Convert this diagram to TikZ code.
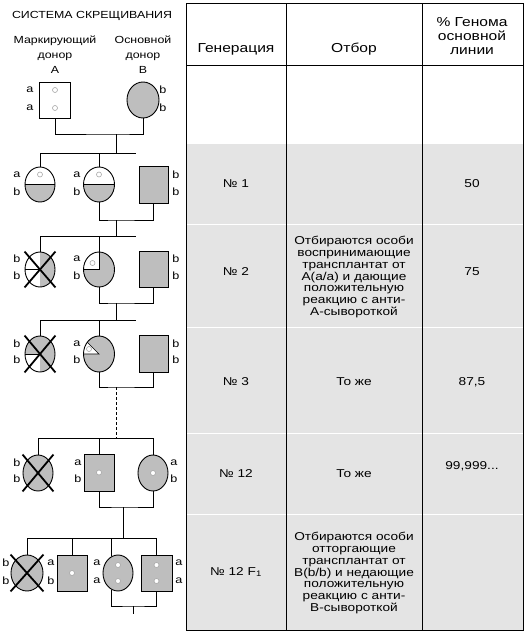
\documentclass[tikz,border=0pt]{standalone}
\usepackage{fontspec}
\setmainfont{Liberation Sans}[FakeStretch=1.2]
\usetikzlibrary{shapes.geometric,calc}
\definecolor{shade}{HTML}{BEBEBE}
\definecolor{rowgray}{HTML}{E4E4E4}
\begin{document}
\begin{tikzpicture}[x=1pt,y=-1pt,
  lbl/.style={font=\fontsize{10.5}{12}\selectfont, inner sep=0},
  ttl/.style={font=\fontsize{10.3}{15}\selectfont, inner sep=0, align=center},
  oval/.style={ellipse, draw, line width=0.9pt, fill=shade, inner sep=0, minimum width=30pt, minimum height=36pt},
  sqr/.style={rectangle, draw, line width=0.9pt, fill=shade, inner sep=0, minimum width=30pt, minimum height=36pt},
  dot/.style={circle, draw=gray!70, fill=white, inner sep=0, minimum size=5pt, line width=0.6pt},
  link/.style={line width=0.9pt},
  cross/.style={line width=1.8pt},
  thin/.style={line width=0.7pt},
  cell/.style={align=center, font=\fontsize{11.4}{11.7}\selectfont, inner sep=0},
  head/.style={align=center, font=\fontsize{13}{14}\selectfont, inner sep=0},
  tophalf/.style={path picture={\fill[white] (path picture bounding box.north west) rectangle (path picture bounding box.east);}},
  quartertl/.style={path picture={\fill[white] (path picture bounding box.north west) rectangle (path picture bounding box.center);}},
  halfleft/.style={path picture={\fill[white] (path picture bounding box.north west) rectangle (path picture bounding box.south);}},
  quarterbl/.style={path picture={\fill[white] (path picture bounding box.west) rectangle (path picture bounding box.south);}},
  wedge/.style={path picture={\fill[white] (path picture bounding box.center) -- ++(-25,0) -- ++(0,-25) -- cycle;}}
]
\useasboundingbox (0,0) rectangle (530,635);

% ---------------- table ----------------
\fill[rowgray] (186,144) rectangle (523,630);
\foreach \yy in {224,327,433,514} \draw[white, line width=1pt] (186,\yy) -- (523,\yy);
\draw[line width=1pt] (186,3) rectangle (523,630);
\draw[line width=1pt] (186,65) -- (523,65);
\draw[line width=1pt] (286,3) -- (286,630);
\draw[line width=1pt] (422,3) -- (422,630);

\node[head] (hgen) at (236,49) {Генерация};
\node[head] (hsel) at (354,49) {Отбор};
\node[head] (hpct) at (472,36) {\% Генома\\основной\\линии};

\node[cell] (r1g) at (236,184) {№ 1};
\node[cell] (r1p) at (472,184) {50};
\node[cell] (r2g) at (236,272) {№ 2};
\node[cell] (r2s) at (354,277) {Отбираются особи\\воспринимающие\\трансплантат от\\A(a/a) и дающие\\положительную\\реакцию с анти-\\A-сывороткой};
\node[cell] (r2p) at (472,272) {75};
\node[cell] (r3g) at (236,382) {№ 3};
\node[cell] (r3s) at (354,382) {То же};
\node[cell] (r3p) at (472,382) {87,5};
\node[cell] (r4g) at (236,474) {№ 12};
\node[cell] (r4s) at (354,474) {То же};
\node[cell] (r4p) at (472,466) {99,999...};
\node[cell] (r5g) at (236,572) {№ 12 F\textsubscript{1}};
\node[cell] (r5s) at (354,573) {Отбираются особи\\отторгающие\\трансплантат от\\B(b/b) и недающие\\положительную\\реакцию с анти-\\B-сывороткой};

% ---------------- pedigree ----------------
\node[ttl] (title) at (92,16) {СИСТЕМА СКРЕЩИВАНИЯ};
\node[ttl] (donA) at (55,55) {Маркирующий\\донор\\A};
\node[ttl] (donB) at (143,55) {Основной\\донор\\B};

% generation 0
\node[sqr, fill=white, minimum width=31pt] (A) at (55,100) {};
\node[oval, minimum width=32pt] (B) at (143,100) {};
\node[dot] (dA1) at (55,90) {};
\node[dot] (dA2) at (55,108) {};
\node[lbl] (lA1) at (30,90) {a};
\node[lbl] (lA2) at (30,108) {a};
\node[lbl] (lB1) at (163,90) {b};
\node[lbl] (lB2) at (163,108) {b};
\coordinate (j0) at (116,134);
\coordinate (s1) at (116,153);
\coordinate (s1l) at (40,153);
\coordinate (s1r) at (136,153);
\draw[link] (A.south) |- (j0) -| (B.south);
\draw[link] (j0) -- (s1);
\draw[link] (s1l) -- (s1r);

% generation 1
\node[oval, tophalf, minimum height=35pt] (g1a) at (40,184.5) {};
\node[oval, tophalf, minimum height=35pt, minimum width=31pt] (g1b) at (99,184.5) {};
\node[sqr, minimum width=29pt, minimum height=37pt] (g1c) at (153.5,184.5) {};
\draw[thin] (g1a.west) -- (g1a.east);
\draw[thin] (g1b.west) -- (g1b.east);
\node[dot] (d1a) at (40,174.5) {};
\node[dot] (d1b) at (99,174.5) {};
\node[lbl] (l1a1) at (17,175) {a};
\node[lbl] (l1a2) at (17,192) {b};
\node[lbl] (l1b1) at (77,175) {a};
\node[lbl] (l1b2) at (77,192) {b};
\node[lbl] (l1c1) at (176,175) {b};
\node[lbl] (l1c2) at (176,192) {b};
\draw[link] (g1a.north) -- (g1a.north |- s1l);
\draw[link] (g1b.north) -- (g1b.north |- s1l);
\coordinate (j1) at (116,220);
\coordinate (s2) at (116,236.5);
\coordinate (s2l) at (40,236.5);
\coordinate (s2r) at (136,236.5);
\draw[link] (g1b.south) |- (j1) -| (g1c.south);
\draw[link] (j1) -- (s2);
\draw[link] (s2l) -- (s2r);

% generation 2
\node[oval, halfleft, minimum height=35pt] (g2a) at (40,269.5) {};
\node[oval, quartertl, minimum height=35pt, minimum width=31pt] (g2b) at (99,269.5) {};
\node[sqr, minimum width=29pt] (g2c) at (153.5,269) {};
\draw[thin] (g2a.west) -- (g2a.center);
\draw[thin] (g2b.west) -- (g2b.center) -- (g2b.north);
\node[dot] (d2b) at (92.5,263) {};
\draw[cross] (g2a.west |- g2a.north) -- (g2a.east |- g2a.south);
\draw[cross] (g2a.west |- g2a.south) -- (g2a.east |- g2a.north);
\node[lbl] (l2a1) at (17,259) {b};
\node[lbl] (l2a2) at (17,276) {b};
\node[lbl] (l2b1) at (77,259) {a};
\node[lbl] (l2b2) at (77,276) {b};
\node[lbl] (l2c1) at (176,259) {b};
\node[lbl] (l2c2) at (176,276) {b};
\draw[link] (g2a.north) -- (g2a.north |- s2l);
\draw[link] (g2b.north) -- (g2b.north |- s2l);
\coordinate (j2) at (116,303);
\coordinate (s3) at (116,320);
\coordinate (s3l) at (40,320);
\coordinate (s3r) at (136,320);
\draw[link] (g2b.south) |- (j2) -| (g2c.south);
\draw[link] (j2) -- (s3);
\draw[link] (s3l) -- (s3r);

% generation 3
\node[oval, quarterbl] (g3a) at (40,354) {};
\node[oval, wedge, minimum width=31pt] (g3b) at (99,354) {};
\node[sqr, minimum width=29pt, minimum height=37pt] (g3c) at (153.5,353.5) {};
\draw[thin] (g3a.west) -- (g3a.center);
\draw[thin] (g3b.west) -- (g3b.center) -- (g3b.135);
\node[dot] (d3b) at (89,349) {};
\draw[cross] (g3a.west |- g3a.north) -- (g3a.east |- g3a.south);
\draw[cross] (g3a.west |- g3a.south) -- (g3a.east |- g3a.north);
\node[lbl] (l3a1) at (17,344) {b};
\node[lbl] (l3a2) at (17,360) {b};
\node[lbl] (l3b1) at (77,344) {a};
\node[lbl] (l3b2) at (77,360) {b};
\node[lbl] (l3c1) at (176,344) {b};
\node[lbl] (l3c2) at (176,360) {b};
\draw[link] (g3a.north) -- (g3a.north |- s3l);
\draw[link] (g3b.north) -- (g3b.north |- s3l);
\coordinate (j3) at (116,387);
\coordinate (s4) at (116,438);
\coordinate (s4l) at (38,438);
\coordinate (s4r) at (153,438);
\draw[link] (g3b.south) |- (j3) -| (g3c.south);
\draw[link, dash pattern=on 3pt off 2pt] (j3) -- (s4);
\draw[link] (s4l) -- (s4r);

% generation 4
\node[oval] (g4a) at (38,473) {};
\node[sqr, minimum height=37pt] (g4b) at (99,472.5) {};
\node[oval] (g4c) at (153,473) {};
\node[dot] (d4b) at (99,472.5) {};
\node[dot] (d4c) at (153,473) {};
\draw[cross] (g4a.west |- g4a.north) -- (g4a.east |- g4a.south);
\draw[cross] (g4a.west |- g4a.south) -- (g4a.east |- g4a.north);
\node[lbl] (l4a1) at (17,463) {b};
\node[lbl] (l4a2) at (17,479) {b};
\node[lbl] (l4b1) at (78,463) {a};
\node[lbl] (l4b2) at (78,479) {b};
\node[lbl] (l4c1) at (174,463) {a};
\node[lbl] (l4c2) at (174,479) {b};
\draw[link] (g4a.north) -- (g4a.north |- s4l);
\draw[link] (g4b.north) -- (g4b.north |- s4l);
\draw[link] (g4c.north) -- (g4c.north |- s4l);
\coordinate (j4) at (123,507);
\coordinate (s5) at (123,538);
\coordinate (s5l) at (27,538);
\coordinate (s5r) at (156.5,538);
\draw[link] (g4b.south) |- (j4) -| (g4c.south);
\draw[link] (j4) -- (s5);
\draw[link] (s5l) -- (s5r);

% generation 5
\node[oval, minimum width=32pt] (g5a) at (27,573) {};
\node[sqr] (g5b) at (72,573) {};
\node[oval] (g5c) at (118,573) {};
\node[sqr, minimum width=31pt] (g5d) at (156.5,573) {};
\node[dot] (d5b) at (72,573) {};
\node[dot] (d5c1) at (118,565) {};
\node[dot] (d5c2) at (118,581) {};
\node[dot] (d5d1) at (156.5,565) {};
\node[dot] (d5d2) at (156.5,581) {};
\draw[cross] (g5a.west |- g5a.north) -- (g5a.east |- g5a.south);
\draw[cross] (g5a.west |- g5a.south) -- (g5a.east |- g5a.north);
\node[lbl] (l5a1) at (6,563) {b};
\node[lbl] (l5a2) at (6,581) {b};
\node[lbl] (l5b1) at (51,563) {a};
\node[lbl] (l5b2) at (51,581) {b};
\node[lbl] (l5c1) at (97,563) {a};
\node[lbl] (l5c2) at (97,581) {a};
\node[lbl] (l5d1) at (179,563) {a};
\node[lbl] (l5d2) at (179,581) {a};
\draw[link] (g5a.north) -- (g5a.north |- s5l);
\draw[link] (g5b.north) -- (g5b.north |- s5l);
\draw[link] (g5c.110) -- (g5c.110 |- s5l);
\draw[link] (g5d.north) -- (g5d.north |- s5l);
\coordinate (j5) at (133,606);
\coordinate (e5) at (133,614);
\draw[link] (g5c.250) |- (j5) -| (g5d.south);
\draw[link] (j5) -- (e5);
\end{tikzpicture}
\end{document}
